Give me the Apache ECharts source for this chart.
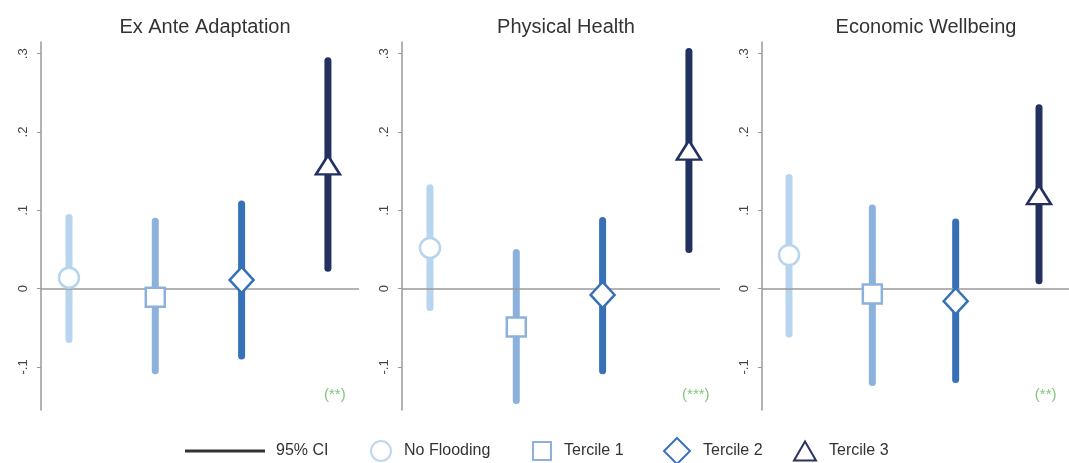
<!DOCTYPE html>
<html><head><meta charset="utf-8">
<script src="https://cdn.jsdelivr.net/npm/echarts@6/dist/echarts.min.js"></script>
<style>html,body{margin:0;padding:0;background:#fff}#c{width:1069px;height:463px}</style>
</head><body><div id="c"></div>
<script>
// ---- data ----
const panelTitles = ['Ex Ante Adaptation', 'Physical Health', 'Economic Wellbeing'];
const groups = ['No Flooding', 'Tercile 1', 'Tercile 2', 'Tercile 3'];
const groupPos = [1, 2, 3, 4];

const estAdapt = [0.014, -0.011, 0.011, 0.158];
const loAdapt  = [-0.065, -0.105, -0.086, 0.026];
const hiAdapt  = [0.091, 0.086, 0.108, 0.291];

const estHealth = [0.052, -0.049, -0.008, 0.177];
const loHealth  = [-0.024, -0.143, -0.105, 0.050];
const hiHealth  = [0.129, 0.046, 0.087, 0.303];

const estEcon = [0.043, -0.007, -0.016, 0.120];
const loEcon  = [-0.058, -0.120, -0.116, 0.010];
const hiEcon  = [0.142, 0.103, 0.085, 0.231];

const sigLabels = ['(**)', '(***)', '(**)'];
const yTickValues = [-0.1, 0, 0.1, 0.2, 0.3];
const yTickLabels = ['-.1', '0', '.1', '.2', '.3'];
const ciLegendLabel = '95% CI';

// ---- build ----
const estimates = [estAdapt, estHealth, estEcon];
const lows = [loAdapt, loHealth, loEcon];
const highs = [hiAdapt, hiHealth, hiEcon];

const FONT = "'Liberation Sans Narrow', 'Arial Narrow', 'Liberation Sans', Arial, sans-serif";
const colors = ['#b7d5ee', '#8cb1dc', '#3671b8', '#22315f'];
const legendColors = ['#bcd8ef', '#8fb0da', '#3d6fc2', '#27345e'];
const symbols = ['circle', 'rect', 'diamond', 'triangle'];
const symbolSizes = [20, 19, [24, 26], [24, 19]];
const gridLeft = [41, 402, 762];
const gridWidth = 318;
const gridTop = 42, gridHeight = 368;
const xMin = 0.676, xMax = 4.36, yMin = -0.155, yMax = 0.315;

const grids = [], xAxes = [], yAxes = [], series = [], titles = [];
panelTitles.forEach((t, p) => {
  grids.push({ left: gridLeft[p], top: gridTop, width: gridWidth, height: gridHeight, containLabel: false });
  xAxes.push({ type: 'value', gridIndex: p, min: xMin, max: xMax, show: false });
  yAxes.push({
    type: 'value', gridIndex: p, min: yMin, max: yMax,
    axisLine: { show: true, lineStyle: { color: '#999', width: 1.5 } },
    axisTick: { show: true, length: 4, customValues: yTickValues, lineStyle: { color: '#999' } },
    axisLabel: {
      show: true, rotate: 90, margin: 11, customValues: yTickValues,
      fontFamily: FONT, fontSize: 13, color: '#444',
      formatter: v => { const i = yTickValues.findIndex(tv => Math.abs(tv - v) < 1e-9); return i >= 0 ? yTickLabels[i] : ''; }
    },
    splitLine: { show: false }
  });
  titles.push({
    text: t, left: gridLeft[p] + gridWidth / 2, textAlign: 'center', top: 12,
    textStyle: { fontFamily: FONT, fontSize: 20, fontWeight: 'normal', color: '#333' }
  });
  // zero line
  series.push({
    type: 'line', xAxisIndex: p, yAxisIndex: p, data: [], silent: true, z: 1,
    markLine: { silent: true, symbol: 'none', label: { show: false },
      lineStyle: { color: '#9a9a9a', width: 1.5, type: 'solid' }, data: [{ yAxis: 0 }] }
  });
  // CIs
  series.push({
    type: 'custom', name: ciLegendLabel, xAxisIndex: p, yAxisIndex: p, z: 3,
    itemStyle: { color: '#333' },
    encode: { x: 0, y: [1, 2] },
    data: groups.map((g, gi) => [groupPos[gi], lows[p][gi], highs[p][gi], gi]),
    renderItem: (params, api) => {
      const x = api.value(0), lo = api.value(1), hi = api.value(2), gi = api.value(3);
      const a = api.coord([x, lo]), b = api.coord([x, hi]);
      return { type: 'line', shape: { x1: a[0], y1: a[1], x2: b[0], y2: b[1] },
        style: { stroke: colors[gi], lineWidth: 7, lineCap: 'round' } };
    }
  });
  // point estimates
  groups.forEach((g, gi) => {
    series.push({
      type: 'scatter', name: g, xAxisIndex: p, yAxisIndex: p, z: 5,
      symbol: symbols[gi], symbolSize: symbolSizes[gi],
      itemStyle: { color: '#fff', borderColor: colors[gi], borderWidth: 2.5, opacity: 1 },
      data: [[groupPos[gi], estimates[p][gi]]]
    });
  });
  // significance label
  series.push({
    type: 'scatter', xAxisIndex: p, yAxisIndex: p, z: 6, silent: true,
    symbol: 'circle', symbolSize: 2, itemStyle: { color: 'rgba(255,255,255,0)' },
    label: { show: true, position: 'inside', formatter: sigLabels[p], fontFamily: FONT, fontSize: 15, color: '#5cb85c' },
    data: [[4.08, -0.136]]
  });
});

const legendTextStyle = { fontFamily: FONT, fontSize: 16, color: '#333' };
const legends = [
  { data: [{ name: ciLegendLabel, icon: 'rect', itemStyle: { color: '#333' } }],
    left: 180, top: 438, padding: 5, itemWidth: 80, itemHeight: 3, selectedMode: false,
    textStyle: Object.assign({ padding: [0, 0, 0, 6] }, legendTextStyle) }
];
const legendLeft = [365, 527, 658, 788];
const legendSizes = [[20, 20], [18, 18], [26, 26], [22, 19]];
groups.forEach((g, gi) => {
  legends.push({
    data: [{ name: g, icon: symbols[gi], itemStyle: { color: '#fff', borderColor: legendColors[gi], borderWidth: 2 } }],
    left: legendLeft[gi], top: 450 - Math.max(legendSizes[gi][1], 18) / 2 - 5, padding: 5,
    itemWidth: legendSizes[gi][0], itemHeight: legendSizes[gi][1], selectedMode: false,
    textStyle: Object.assign({ padding: [0, 0, 0, 8] }, legendTextStyle)
  });
});

const chart = echarts.init(document.getElementById('c'), null, { renderer: 'canvas' });
chart.setOption({
  animation: false,
  backgroundColor: '#fff',
  title: titles,
  grid: grids, xAxis: xAxes, yAxis: yAxes,
  legend: legends,
  series: series
});
</script></body></html>
